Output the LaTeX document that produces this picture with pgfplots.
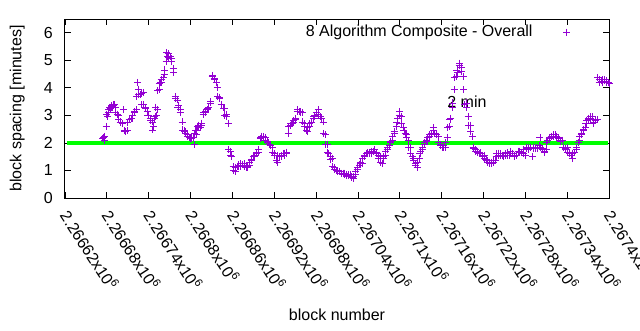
\documentclass[border=0pt]{standalone}
\usepackage{fontspec}
\setmainfont{Liberation Sans}
\usepackage{pgfplots}
\pgfplotsset{compat=1.18}
\definecolor{gpviolet}{RGB}{148,0,211}
\definecolor{gpgreen}{RGB}{0,255,0}
\begin{document}
\fontsize{16pt}{19pt}\selectfont
\begin{tikzpicture}
\useasboundingbox (-65pt,-132pt) rectangle (575pt,198pt);
\begin{axis}[
  at={(0pt,0pt)}, anchor=south west,
  scale only axis, width=544pt, height=179pt,
  xmin=0, xmax=780, ymin=0, ymax=6.5,
  xtick={0,60,...,780},
  xticklabels={2.26662x10\textsuperscript{6},2.26668x10\textsuperscript{6},2.26674x10\textsuperscript{6},2.2668x10\textsuperscript{6},2.26686x10\textsuperscript{6},2.26692x10\textsuperscript{6},2.26698x10\textsuperscript{6},2.26704x10\textsuperscript{6},2.2671x10\textsuperscript{6},2.26716x10\textsuperscript{6},2.26722x10\textsuperscript{6},2.26728x10\textsuperscript{6},2.26734x10\textsuperscript{6},2.2674x10\textsuperscript{6}},
  ytick={0,1,2,3,4,5,6},
  tick align=inside, major tick length=6pt,
  tick style={black, line width=0.8pt},
  axis line style={black, line width=1pt},
  /pgf/number format/assume math mode=true,
  ticklabel style={font=\fontsize{16pt}{19pt}\selectfont},
  xticklabel style={yshift=-14pt, rotate=-57, anchor=west, inner sep=0pt},
  yticklabel style={anchor=east, inner sep=0pt, xshift=-12pt},
  xlabel={block number}, ylabel={block spacing [minutes]},
  label style={font=\fontsize{16pt}{19pt}\selectfont},
  xlabel style={at={(axis description cs:0.5,-0.654)}, anchor=center},
  ylabel style={at={(axis description cs:-0.088,0.5)}, anchor=center},
  legend plot pos=right,
  legend style={draw=none, fill=none, at={(axis description cs:0.9292,0.927)}, anchor=east,
    font=\fontsize{16pt}{19pt}\selectfont, inner sep=0pt, nodes={inner sep=0pt}},
  legend image code/.code={\path (0pt,0pt); \draw[#1] plot coordinates {(34pt,0pt)};},
]
\addplot[only marks, mark=+, mark size=3.5pt, color=gpviolet, mark options={line width=0.9pt}] coordinates {
(54,2.15)(55,2.2)(56,2.1)(57,2.25)(59,2.6)(60,3.05)(61,2.95)(62,3.1)(63,3.2)(64,3.3)(65,3.25)(66,3.3)(67,3.35)(68,3.3)(69,3.4)(70,3.35)(71,3.4)(72,3.3)(73,3.1)(75,3.05)(76,3.0)(77,2.85)(79,2.76)(80,2.75)(82,2.7)(83,2.72)(84,3.2)(85,2.45)(86,2.4)(87,2.4)(89,2.45)(90,2.75)(92,2.85)(93,2.85)(95,2.9)(96,2.9)(97,3.0)(99,3.1)(100,3.15)(102,3.2)(103,3.7)(104,4.2)(105,3.95)(106,3.75)(108,3.75)(109,3.8)(110,3.38)(112,3.82)(113,3.4)(115,3.3)(116,3.25)(118,3.15)(119,3.0)(120,3.0)(122,2.9)(123,2.8)(125,2.76)(126,2.47)(127,2.6)(128,2.9)(129,2.95)(130,3.3)(131,3.0)(132,3.2)(133,3.9)(135,4.15)(136,3.93)(137,4.2)(138,4.3)(139,4.2)(141,4.36)(142,4.5)(143,4.65)(145,4.95)(146,5.27)(147,5.15)(148,5.25)(149,5.1)(151,5.13)(152,5.05)(153,4.95)(155,4.7)(156,4.55)(158,3.67)(159,3.6)(161,3.56)(162,3.3)(163,3.35)(165,3.1)(166,3.2)(168,2.76)(169,2.47)(171,2.45)(172,2.4)(173,2.35)(175,2.3)(176,2.25)(178,2.2)(179,2.2)(180,2.15)(181,2.15)(182,2.2)(184,2.2)(185,1.93)(186,2.35)(187,2.45)(188,2.3)(189,2.47)(190,2.6)(191,2.6)(192,2.65)(194,2.55)(195,2.65)(196,2.72)(198,3.05)(199,3.1)(201,3.1)(202,3.15)(204,3.2)(205,3.25)(206,3.3)(208,3.45)(209,3.5)(211,4.4)(212,4.45)(214,4.35)(215,4.3)(217,4.2)(218,4.0)(219,3.67)(221,3.6)(222,3.65)(224,3.4)(225,3.38)(227,3.27)(228,3.25)(229,3.0)(231,3.05)(232,2.95)(234,2.72)(235,1.75)(237,1.7)(238,1.55)(239,1.5)(241,1.13)(242,1.0)(244,0.95)(245,1.1)(247,1.15)(248,1.13)(249,1.2)(251,1.15)(252,1.25)(254,1.2)(255,1.2)(257,1.25)(258,1.15)(260,1.1)(261,1.1)(262,1.15)(264,1.2)(265,1.3)(267,1.35)(268,1.4)(270,1.5)(271,1.5)(272,1.55)(274,1.6)(275,1.65)(277,1.67)(278,1.75)(280,2.15)(281,2.2)(282,2.25)(284,2.2)(285,2.22)(287,2.2)(288,2.1)(290,2.05)(291,2.0)(293,1.95)(294,1.9)(295,1.9)(297,1.85)(298,1.67)(300,1.6)(301,1.56)(303,1.35)(304,1.3)(305,1.55)(307,1.5)(308,1.5)(310,1.55)(311,1.5)(313,1.6)(314,1.55)(315,1.63)(317,1.6)(318,1.67)(320,2.36)(321,2.6)(323,2.65)(324,2.7)(326,2.72)(327,2.76)(328,2.8)(330,2.84)(331,2.9)(333,3.15)(334,3.2)(336,3.15)(337,3.15)(338,3.1)(340,3.1)(341,2.76)(343,2.7)(344,2.6)(346,2.45)(347,2.4)(348,2.55)(350,2.6)(351,2.7)(353,2.75)(354,2.76)(356,2.9)(357,2.95)(358,3.0)(360,3.1)(361,3.1)(363,3.2)(364,3.05)(366,2.95)(367,2.9)(368,2.9)(370,2.76)(371,2.35)(373,2.3)(374,1.95)(376,1.93)(377,1.67)(378,1.6)(380,1.5)(381,1.4)(383,1.45)(384,1.13)(386,1.1)(387,1.05)(389,1.0)(390,1.0)(391,0.95)(393,0.95)(394,0.95)(396,0.9)(397,0.88)(399,0.9)(400,0.85)(401,0.9)(403,0.85)(404,0.83)(406,0.85)(407,0.8)(409,0.84)(410,0.78)(411,0.76)(413,0.72)(414,0.78)(416,0.84)(417,0.95)(419,1.05)(420,1.1)(422,1.2)(423,1.25)(424,1.3)(426,1.27)(427,1.45)(429,1.5)(430,1.56)(432,1.6)(433,1.6)(434,1.65)(436,1.6)(437,1.67)(439,1.7)(440,1.6)(442,1.7)(443,1.75)(444,1.75)(446,1.65)(447,1.6)(449,1.55)(450,1.45)(452,1.5)(453,1.3)(455,1.27)(456,1.45)(457,1.5)(459,1.56)(460,1.7)(462,1.75)(463,1.82)(465,1.9)(466,2.0)(467,2.05)(469,2.1)(470,2.25)(472,2.4)(473,2.36)(475,2.6)(476,2.76)(477,2.9)(479,3.0)(480,3.13)(482,2.95)(483,2.72)(485,2.55)(486,2.45)(488,2.36)(489,2.3)(490,2.2)(492,2.1)(493,1.85)(495,1.82)(496,1.6)(498,1.5)(499,1.45)(500,1.35)(502,1.25)(503,1.2)(505,1.1)(506,1.3)(508,1.45)(509,1.63)(510,1.7)(512,1.75)(513,1.85)(515,1.93)(516,2.0)(518,2.05)(519,2.1)(520,2.2)(522,2.25)(523,2.3)(525,2.35)(526,2.3)(528,2.55)(529,2.47)(530,2.35)(532,2.3)(533,2.3)(535,2.22)(536,2.0)(538,1.93)(539,1.9)(541,1.85)(542,1.85)(543,1.9)(545,1.85)(546,2.0)(548,2.2)(549,2.55)(551,2.6)(552,2.84)(553,2.9)(555,3.3)(556,3.45)(558,3.93)(559,4.36)(561,4.4)(562,4.65)(563,4.55)(565,4.8)(566,4.9)(568,4.75)(569,4.6)(571,4.4)(572,3.93)(573,3.38)(575,3.45)(576,3.3)(578,2.95)(579,2.65)(581,2.65)(582,2.4)(584,2.22)(585,1.82)(586,1.8)(588,1.75)(589,1.7)(591,1.67)(592,1.7)(594,1.6)(595,1.65)(596,1.6)(598,1.56)(599,1.5)(601,1.55)(602,1.45)(604,1.4)(605,1.38)(606,1.3)(608,1.3)(609,1.25)(611,1.3)(612,1.27)(614,1.3)(615,1.35)(617,1.38)(618,1.5)(619,1.6)(621,1.63)(622,1.55)(624,1.6)(625,1.55)(627,1.56)(628,1.55)(629,1.5)(631,1.6)(632,1.55)(634,1.56)(635,1.65)(637,1.55)(638,1.6)(639,1.7)(641,1.63)(642,1.6)(644,1.55)(645,1.5)(647,1.55)(648,1.56)(650,1.7)(651,1.65)(652,1.7)(654,1.65)(655,1.67)(657,1.75)(658,1.6)(660,1.56)(661,1.85)(662,1.8)(664,1.82)(665,1.75)(667,1.82)(668,1.85)(670,1.5)(671,1.8)(672,1.85)(674,1.8)(675,1.85)(677,1.85)(678,1.8)(680,1.9)(681,2.2)(682,1.85)(684,1.75)(685,1.8)(687,1.7)(688,1.67)(690,1.75)(691,2.0)(692,2.1)(694,2.15)(695,2.2)(697,2.25)(698,2.22)(700,2.3)(701,2.25)(703,2.3)(704,2.2)(705,2.25)(707,2.2)(708,2.15)(710,2.1)(711,2.05)(713,2.1)(714,1.85)(715,1.85)(717,1.75)(718,1.8)(720,1.82)(721,1.65)(723,1.6)(724,1.67)(726,1.55)(727,1.45)(728,1.6)(730,1.65)(731,1.67)(733,1.75)(734,1.85)(736,2.0)(737,2.1)(738,2.22)(740,2.3)(741,2.36)(743,2.45)(744,2.5)(746,2.58)(747,2.7)(748,2.8)(750,2.9)(751,2.85)(753,2.95)(754,2.9)(756,2.95)(757,2.72)(758,2.75)(760,2.8)(761,2.84)(763,2.85)(764,4.36)(766,4.2)(767,4.3)(769,4.25)(770,4.2)(771,4.3)(773,4.25)(774,4.3)(776,4.2)(777,4.25)(779,4.2)(780,4.15)
};
\addlegendentry{8 Algorithm Composite - Overall}
\addplot[gpgreen, line width=4pt, forget plot] coordinates {(3,2) (778,2)};
\node[anchor=west, inner sep=0pt] at (axis cs:548,3.5) {2 min};
\end{axis}
\end{tikzpicture}
\end{document}
